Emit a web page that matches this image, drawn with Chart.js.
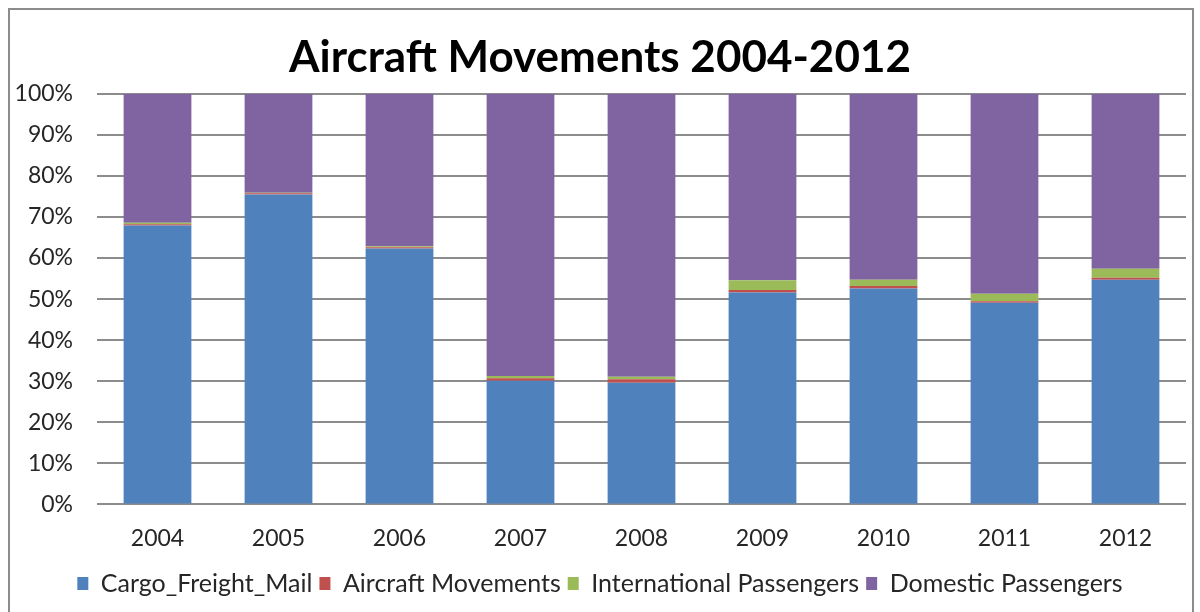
<!DOCTYPE html>
<html>
<head>
<meta charset="utf-8">
<script src="https://cdn.jsdelivr.net/npm/chart.js@4"></script>
<style>
  html, body { margin: 0; padding: 0; background: #fff; }
  #wrap { position: absolute; left: 0; top: 0; width: 1200px; height: 612px; }
  #frame { position: absolute; left: 8px; top: 8px; width: 1182px; height: 620px; border: 2px solid #8c8c8c; pointer-events: none; }
</style>
</head>
<body>
<div id="wrap">
  <canvas id="chart" width="1200" height="612"></canvas>
  <div id="frame"></div>
</div>
<script>
const years = ["2004", "2005", "2006", "2007", "2008", "2009", "2010", "2011", "2012"];
const cargo = [67.9, 75.5, 62.3, 30.1, 29.6, 51.6, 52.6, 49.1, 54.7];
const aircraft = [0.3, 0.3, 0.3, 0.6, 0.9, 0.6, 0.6, 0.4, 0.5];
const international = [0.4, 0.1, 0.3, 0.6, 0.6, 2.4, 1.5, 1.8, 2.2];
const domestic = years.map((_, i) => +(100 - cargo[i] - aircraft[i] - international[i]).toFixed(1));

const font = "Lato, 'Open Sans', sans-serif";

const ctx = document.getElementById("chart").getContext("2d");
new Chart(ctx, {
  type: "bar",
  data: {
    labels: years,
    datasets: [
      { label: "Cargo_Freight_Mail", data: cargo, backgroundColor: "#4f81bd" },
      { label: "Aircraft Movements", data: aircraft, backgroundColor: "#c0504d" },
      { label: "International Passengers", data: international, backgroundColor: "#9bbb59" },
      { label: "Domestic Passengers", data: domestic, backgroundColor: "#8064a2" },
    ],
  },
  options: {
    responsive: false,
    animation: false,
    layout: { padding: { top: 31, right: 14, left: 14, bottom: 6 } },
    datasets: { bar: { categoryPercentage: 1, barPercentage: 0.56 } },
    plugins: {
      title: {
        display: true,
        text: "Aircraft Movements 2004-2012",
        color: "#000",
        font: { family: font, size: 44, weight: "bold" },
        padding: { top: 0, bottom: 10 },
      },
      legend: {
        position: "bottom",
        labels: {
          color: "#262626",
          boxWidth: 11,
          boxHeight: 13,
          padding: 7,
          font: { family: font, size: 25 },
        },
      },
      tooltip: { enabled: false },
    },
    scales: {
      x: {
        stacked: true,
        grid: { display: false },
        border: { display: false },
        ticks: { color: "#262626", font: { family: font, size: 23 }, padding: 12 },
      },
      y: {
        stacked: true,
        min: 0,
        max: 100,
        afterFit: (scale) => { scale.width = 83; },
        grid: { color: "#8c8c8c", lineWidth: 2, drawTicks: false },
        border: { display: false },
        ticks: {
          stepSize: 10,
          color: "#262626",
          padding: 24,
          font: { family: font, size: 23 },
          callback: (v) => v + "%",
        },
      },
    },
  },
});
</script>
</body>
</html>
